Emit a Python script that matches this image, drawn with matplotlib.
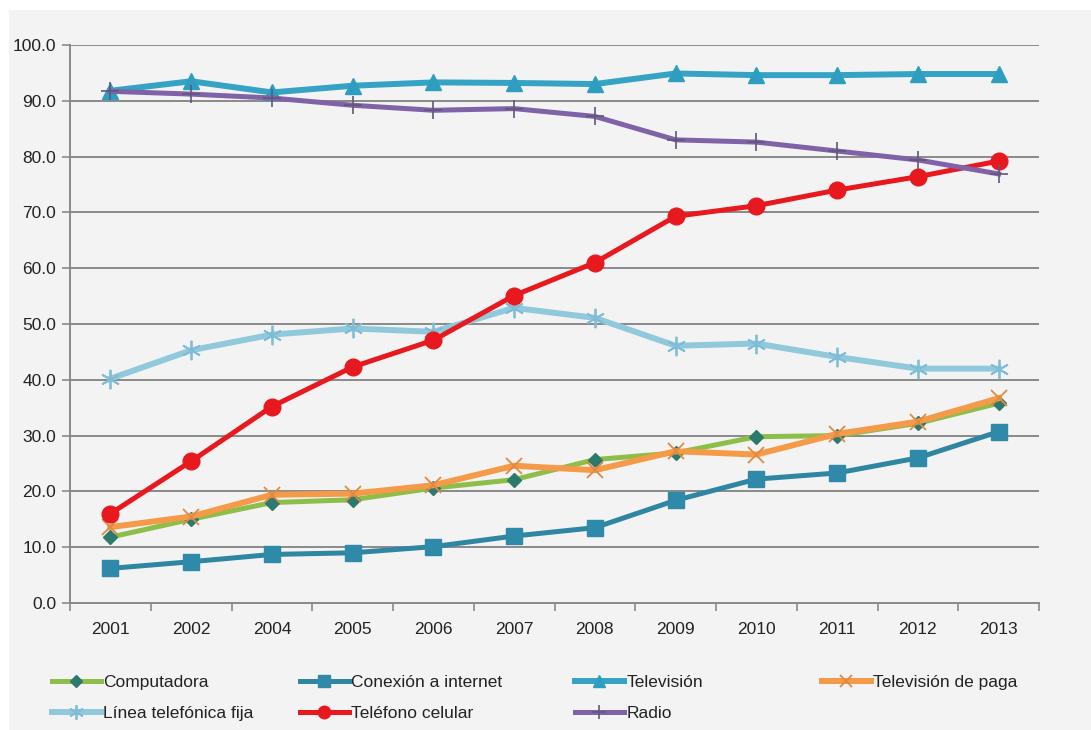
import matplotlib
matplotlib.use("Agg")
import matplotlib.pyplot as plt
from matplotlib.patches import Rectangle
import numpy as np

plt.rcParams['font.family'] = ['Liberation Sans', 'DejaVu Sans']

years = ["2001", "2002", "2004", "2005", "2006", "2007", "2008", "2009", "2010", "2011", "2012", "2013"]

computadora = [11.8, 15.0, 18.0, 18.5, 20.6, 22.1, 25.7, 26.9, 29.8, 30.0, 32.2, 35.8]
conexion_internet = [6.2, 7.4, 8.7, 9.0, 10.1, 12.0, 13.5, 18.4, 22.2, 23.3, 26.0, 30.7]
television = [91.8, 93.5, 91.5, 92.7, 93.3, 93.2, 93.0, 94.9, 94.6, 94.6, 94.8, 94.8]
television_paga = [13.6, 15.5, 19.4, 19.6, 21.1, 24.6, 23.8, 27.2, 26.6, 30.3, 32.5, 36.7]
linea_fija = [40.2, 45.3, 48.1, 49.2, 48.6, 52.9, 51.1, 46.1, 46.5, 44.1, 42.0, 42.0]
telefono_celular = [16.0, 25.4, 35.2, 42.3, 47.1, 55.1, 61.0, 69.3, 71.2, 74.0, 76.4, 79.2]
radio = [91.7, 91.2, 90.5, 89.2, 88.3, 88.6, 87.2, 83.0, 82.6, 81.0, 79.4, 76.9]

labels = ["Computadora", "Conexión a internet", "Televisión", "Televisión de paga",
          "Línea telefónica fija", "Teléfono celular", "Radio"]

W, H = 1091, 730
fig = plt.figure(figsize=(W / 100, H / 100), dpi=100)
fig.patch.set_facecolor('white')
fig.patches.append(Rectangle((9 / W, 0), 1 - 9 / W, 1 - 10 / H, transform=fig.transFigure,
                             facecolor='#f3f3f3', edgecolor='none', zorder=-10))

ax = fig.add_axes([70 / W, 1 - 603 / H, (1039 - 70) / W, (603 - 45) / H])
ax.set_facecolor('none')

x = np.arange(len(years))

styles = [
    dict(data=computadora, color='#8DBE4A', lw=3.6, marker='D', ms=7.5, mfc='#2C7A6C', mec='#2C7A6C'),
    dict(data=conexion_internet, color='#2E86A3', lw=3.6, marker='s', ms=12, mfc='#2E8AA8', mec='#2E8AA8'),
    dict(data=television, color='#34A3C4', lw=4.3, marker='^', ms=11, mfc='#2E9EC0', mec='#2E9EC0'),
    dict(data=television_paga, color='#F59A48', lw=4.3, marker='x', ms=11, mfc='#E08A40', mec='#E08A40', mew=1.3),
    dict(data=linea_fija, color='#90C8DC', lw=4.3, marker=(6, 2, 0), ms=14, mfc='#7FBDD6', mec='#7FBDD6', mew=1.3),
    dict(data=telefono_celular, color='#E8191E', lw=3.6, marker='o', ms=12, mfc='#E8191E', mec='#E8191E'),
    dict(data=radio, color='#7F62A8', lw=3.6, marker='+', ms=13, mfc='#60587A', mec='#60587A', mew=1.2),
]

handles = []
for lab, st in zip(labels, styles):
    st = dict(st)
    d = st.pop('data')
    mew = st.pop('mew', 1.0)
    h, = ax.plot(x, d, color=st['color'], lw=st['lw'], marker=st['marker'], ms=st['ms'],
                 mfc=st['mfc'], mec=st['mec'], mew=mew, label=lab, solid_joinstyle='round')
    handles.append(h)

ax.set_xlim(-0.5, len(years) - 0.5)
ax.set_ylim(0, 100)
ax.set_yticks(np.arange(0, 101, 10))
ax.set_yticklabels([f"{v:.1f}" for v in np.arange(0, 101, 10)])
ax.yaxis.grid(True, color='#8a8a8a', lw=1.4)
ax.set_axisbelow(True)

ax.set_xticks(np.arange(-0.5, len(years), 1.0))
ax.set_xticklabels([])
ax.set_xticks(x, minor=True)
ax.set_xticklabels(years, minor=True)
ax.tick_params(axis='x', which='major', length=6, color='#8a8a8a', width=1.2, direction='out')
ax.tick_params(axis='x', which='minor', length=0, pad=14, labelsize=12.5, labelcolor='#222222')
ax.tick_params(axis='y', length=6, color='#8a8a8a', width=1.2, labelsize=12.5, labelcolor='#222222', pad=4)

for s in ['top', 'right']:
    ax.spines[s].set_visible(False)
for s in ['left', 'bottom']:
    ax.spines[s].set_color('#8a8a8a')
    ax.spines[s].set_linewidth(1.4)

# Legend, laid out as four columns
col_x = [52, 300, 575, 822]
cols = [[0, 4], [1, 5], [2, 6], [3]]
for cx, idxs in zip(col_x, cols):
    leg = fig.legend([handles[i] for i in idxs], [labels[i] for i in idxs],
                     loc='upper left', bbox_to_anchor=(cx / W, 1 - 675 / H),
                     frameon=False, borderpad=0, borderaxespad=0,
                     handlelength=2.8, handletextpad=0.15, labelspacing=0.9,
                     fontsize=12.5, markerscale=0.75)
    for t in leg.get_texts():
        t.set_color('#222222')

fig.savefig('out.png', dpi=100, facecolor=fig.get_facecolor())
